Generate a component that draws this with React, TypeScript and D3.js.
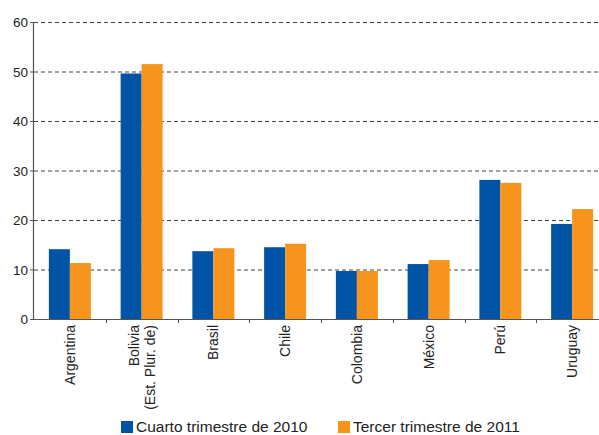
import React, { useEffect, useRef } from 'react';
import * as d3 from 'd3';

const categories = ['Argentina', 'Bolivia|(Est. Plur. de)', 'Brasil', 'Chile', 'Colombia', 'México', 'Perú', 'Uruguay'];
const q4_2010 = [14.1, 49.6, 13.7, 14.5, 9.7, 11.1, 28.1, 19.2];
const q3_2011 = [11.3, 51.5, 14.3, 15.2, 9.7, 11.9, 27.5, 22.2];
const seriesNames = ['Cuarto trimestre de 2010', 'Tercer trimestre de 2011'];
const yTicks = [0, 10, 20, 30, 40, 50, 60];
const colors = ['#0054a6', '#f7941d'];

const App: React.FC = () => {
  const ref = useRef<SVGSVGElement | null>(null);

  useEffect(() => {
    if (ref.current) draw();
  }, []);

  const draw = () => {
    const svg = d3.select(ref.current);
    svg.selectAll('*').remove();

    const left = 34, right = 608, top = 22, bottom = 319;
    const font = 'Arial, "Liberation Sans", sans-serif';

    const x = d3.scaleBand<string>().domain(categories).range([left, right]);
    const y = d3.scaleLinear().domain([0, 60]).range([bottom, top]);
    const barW = 21;

    // gridlines
    svg.append('g')
      .selectAll('line')
      .data(yTicks.filter(t => t > 0))
      .enter().append('line')
      .attr('x1', left).attr('x2', 599)
      .attr('y1', d => y(d) + 0.5).attr('y2', d => y(d) + 0.5)
      .attr('stroke', '#444')
      .attr('stroke-dasharray', '4,3')
      .attr('stroke-width', 1);

    // bars
    const data = categories.map((c, i) => ({ c, vals: [q4_2010[i], q3_2011[i]] }));
    const g = svg.append('g');
    data.forEach(d => {
      const x0 = (x(d.c) || 0) + x.bandwidth() / 2 - barW;
      d.vals.forEach((v, j) => {
        g.append('rect')
          .attr('x', x0 + j * barW)
          .attr('y', y(v))
          .attr('width', barW)
          .attr('height', bottom - y(v))
          .attr('fill', colors[j]);
      });
    });

    // y axis
    svg.append('line')
      .attr('x1', left - 0.5).attr('x2', left - 0.5)
      .attr('y1', top).attr('y2', bottom)
      .attr('stroke', '#555').attr('stroke-width', 1.2);
    yTicks.forEach(t => {
      svg.append('line')
        .attr('x1', left - 4).attr('x2', left)
        .attr('y1', y(t) + 0.5).attr('y2', y(t) + 0.5)
        .attr('stroke', '#555');
      svg.append('text')
        .attr('x', 28).attr('y', y(t) + 5)
        .attr('text-anchor', 'end')
        .attr('font-family', font)
        .attr('font-size', 13.5)
        .attr('fill', '#222')
        .text(t);
    });

    // x axis
    svg.append('line')
      .attr('x1', left - 4).attr('x2', 599)
      .attr('y1', bottom + 0.5).attr('y2', bottom + 0.5)
      .attr('stroke', '#555').attr('stroke-width', 1.2);
    categories.slice(1).forEach(c => {
      const xx = Math.round(x(c) || 0) + 0.5;
      svg.append('line')
        .attr('x1', xx).attr('x2', xx)
        .attr('y1', bottom).attr('y2', bottom + 4)
        .attr('stroke', '#555');
    });

    categories.forEach(c => {
      const lines = c.split('|');
      const cx = (x(c) || 0) + x.bandwidth() / 2;
      const t = svg.append('text')
        .attr('transform', `translate(${cx},${bottom + 6}) rotate(-90)`)
        .attr('text-anchor', 'end')
        .attr('font-family', font)
        .attr('font-size', 14)
        .attr('fill', '#222');
      const n = lines.length;
      lines.forEach((l, i) => {
        t.append('tspan')
          .attr('x', 0)
          .attr('y', (i - (n - 1) / 2) * 16 + 5)
          .text(l);
      });
    });

    // legend
    const legendX = [121, 338];
    seriesNames.forEach((s, i) => {
      svg.append('rect')
        .attr('x', legendX[i]).attr('y', 421)
        .attr('width', 12).attr('height', 12)
        .attr('fill', colors[i]);
      svg.append('text')
        .attr('x', legendX[i] + 15).attr('y', 432)
        .attr('font-family', font)
        .attr('font-size', 15.5)
        .attr('fill', '#222')
        .text(s);
    });
  };

  return (
    <svg ref={ref} width={599} height={435}
      style={{ position: 'absolute', left: 0, top: 0, background: '#fff' }} />
  );
};

export default App;
